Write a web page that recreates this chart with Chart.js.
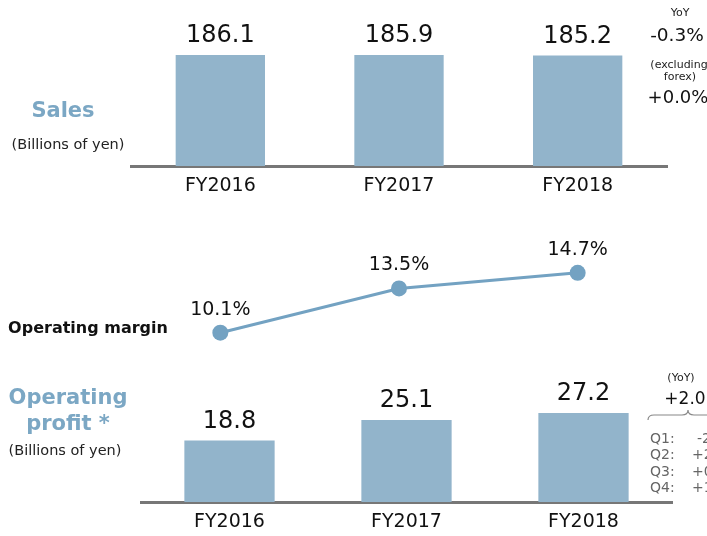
<!DOCTYPE html>
<html>
<head>
<meta charset="utf-8">
<script src="https://cdn.jsdelivr.net/npm/chart.js@4.4.1/dist/chart.umd.min.js"></script>
<style>
  html, body { margin: 0; padding: 0; background: #fff; }
  #wrap { position: relative; width: 707px; height: 536px; overflow: hidden; font-family: 'DejaVu Sans', Verdana, sans-serif; }
  canvas { position: absolute; left: 0; }
  .t { position: absolute; transform: translate(-50%, -50%); white-space: nowrap; line-height: 1; }
  .blue { color: #7ba7c4; font-weight: bold; }
  .q { position: absolute; font-size: 14px; color: #666; white-space: nowrap; line-height: 1; }
</style>
</head>
<body>
<div id="wrap">
  <canvas id="sales" width="707" height="200" style="top:0"></canvas>
  <canvas id="margin" width="707" height="160" style="top:200px"></canvas>
  <canvas id="profit" width="707" height="176" style="top:360px"></canvas>

  <div class="t blue" style="left:63px; top:110px; font-size:21px">Sales</div>
  <div class="t" style="left:68px; top:144px; font-size:14.5px; color:#222">(Billions of yen)</div>

  <div class="t" style="left:88px; top:328px; font-size:16px; font-weight:bold; color:#111">Operating margin</div>

  <div class="t blue" style="left:68px; top:397px; font-size:21px">Operating</div>
  <div class="t blue" style="left:68px; top:423px; font-size:21px">profit *</div>
  <div class="t" style="left:65px; top:450px; font-size:14.5px; color:#222">(Billions of yen)</div>

  <!-- sales YoY notes -->
  <div class="t" style="left:680px; top:12px; font-size:11px; color:#222">YoY</div>
  <div class="t" style="left:677px; top:35px; font-size:18.5px; color:#111">-0.3%</div>
  <div class="t" style="left:679px; top:64px; font-size:11px; color:#222">(excluding</div>
  <div class="t" style="left:680px; top:76px; font-size:11px; color:#222">forex)</div>
  <div class="t" style="left:678px; top:97px; font-size:18px; color:#111">+0.0%</div>

  <!-- profit YoY notes -->
  <div class="t" style="left:681px; top:377px; font-size:11px; color:#222">(YoY)</div>
  <div class="t" style="left:685px; top:398px; font-size:17px; color:#111">+2.0</div>
  <svg style="position:absolute; left:0; top:0" width="707" height="536">
    <path d="M648 420 Q648 415 654 415 L682 415 Q688 415 688 410 Q688 415 694 415 L707 415" fill="none" stroke="#888" stroke-width="1.2"/>
  </svg>
  <div class="q" style="left:650px; top:431px">Q1:</div><div class="q" style="left:697px; top:431px">-2</div>
  <div class="q" style="left:650px; top:447px">Q2:</div><div class="q" style="left:692px; top:447px">+2</div>
  <div class="q" style="left:650px; top:464px">Q3:</div><div class="q" style="left:692px; top:464px">+0</div>
  <div class="q" style="left:650px; top:480px">Q4:</div><div class="q" style="left:692px; top:480px">+1</div>
</div>

<script>
// --- data ---
const years = ['FY2016', 'FY2017', 'FY2018'];
const sales = [186.1, 185.9, 185.2];
const opMargin = [10.1, 13.5, 14.7];
const opProfit = [18.8, 25.1, 27.2];

const barColor = '#92b4cb';
const lineColor = '#73a2c2';
const axisColor = '#777';

Chart.defaults.font.family = "'DejaVu Sans', Verdana, sans-serif";
Chart.defaults.color = '#111';
Chart.defaults.animation = false;
Chart.defaults.plugins.legend.display = false;
Chart.defaults.plugins.tooltip.enabled = false;

// --- value labels drawn above bars / points ---
const valueLabels = {
  id: 'valueLabels',
  afterDatasetsDraw(chart, args, opts) {
    const ctx = chart.ctx;
    const meta = chart.getDatasetMeta(0);
    const data = chart.data.datasets[0].data;
    ctx.save();
    ctx.font = `${opts.size}px 'DejaVu Sans', Verdana, sans-serif`;
    ctx.fillStyle = '#111';
    ctx.textAlign = 'center';
    ctx.textBaseline = 'alphabetic';
    meta.data.forEach((el, i) => {
      ctx.fillText(data[i].toFixed(1) + (opts.suffix || ''), el.x, el.y - opts.offset);
    });
    ctx.restore();
  }
};

function xAxis(pad) {
  return {
    offset: true,
    grid: { display: false, drawTicks: false },
    border: { display: true, color: axisColor, width: 3 },
    ticks: { font: { size: 19 }, color: '#111', padding: pad },
    afterFit: (axis) => { axis.height = 34; }
  };
}

function barChart(id, values, max, padLeft, padRight, barPct) {
  return new Chart(document.getElementById(id), {
    type: 'bar',
    data: {
      labels: years,
      datasets: [{ data: values, backgroundColor: barColor, barPercentage: barPct, categoryPercentage: 1 }]
    },
    options: {
      responsive: false,
      layout: { autoPadding: false, padding: { left: padLeft, right: padRight, top: 0, bottom: 0 } },
      scales: {
        x: xAxis(9),
        y: { display: false, min: 0, max: max }
      },
      plugins: { valueLabels: { size: 24, offset: 13 } }
    },
    plugins: [valueLabels]
  });
}

// --- Sales ---
barChart('sales', sales, 278.3, 131, 40, 0.5);

// --- Operating profit ---
barChart('profit', opProfit, 43.45, 141, 35, 0.51);

// --- Operating margin line ---
new Chart(document.getElementById('margin'), {
  type: 'line',
  data: {
    labels: years,
    datasets: [{
      data: opMargin,
      borderColor: lineColor,
      backgroundColor: lineColor,
      borderWidth: 3,
      pointRadius: 8,
      pointBorderWidth: 0,
      tension: 0,
      clip: false
    }]
  },
  options: {
    responsive: false,
    layout: { autoPadding: false, padding: { left: 131, right: 40, top: 0, bottom: 0 } },
    scales: {
      x: { display: false, offset: true },
      y: { display: false, min: 8.0, max: 20.3 }
    },
    plugins: { valueLabels: { size: 19, offset: 18, suffix: '%' } }
  },
  plugins: [valueLabels]
});
</script>
</body>
</html>
